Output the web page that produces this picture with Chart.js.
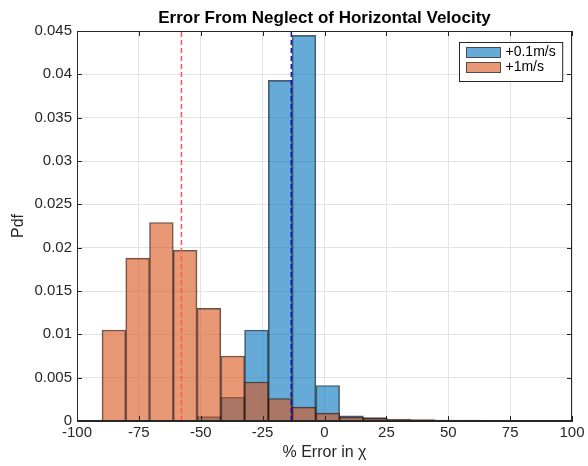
<!DOCTYPE html>
<html>
<head>
<meta charset="utf-8">
<script src="https://cdn.jsdelivr.net/npm/chart.js@4"></script>
<style>
  body { margin: 0; background: #fff; }
</style>
</head>
<body>
<canvas id="grafico" width="588" height="466"></canvas>
<script>
// centros de los bins (% error en chi)
const centrosBin = [-85.1, -75.5, -65.9, -56.3, -46.7, -37.1, -27.5, -17.9, -8.3,
                    1.3, 10.9, 20.5, 30.1, 39.7, 49.3, 58.9, 68.5, 78.1];
// pdf para +0.1m/s
const pdfLento = [null, null, null, null, 0.0005, 0.00274, 0.0105, 0.0393, 0.0445,
                  0.0041, 0.0006, 0.0004, 0.0001, null, null, null, null, null];
// pdf para +1m/s
const pdfRapido = [0.0105, 0.0188, 0.0229, 0.0197, 0.013, 0.0075, 0.0045, 0.0026, 0.0016,
                   0.0009, 0.00045, 0.0003, 0.00022, 0.00015, 0.0001, 0.0001, 0.00008, 0.00005];
const etiquetas = ['+0.1m/s', '+1m/s'];
// medias (lineas discontinuas)
const mediaLento = -13.4;
const mediaRapido = -57.8;
const limitesX = [-100, 100];
const limitesY = [0, 0.045];

const fuente = "'Liberation Sans', Arial, Helvetica, sans-serif";
const colorAzul = 'rgba(0, 114, 189, 0.6)';
const colorNaranja = 'rgba(217, 83, 25, 0.6)';
const colorBorde = 'rgba(20, 20, 20, 0.7)';

function puntos(valores) {
    return centrosBin.map((c, i) => ({ x: c, y: valores[i] }));
}

function lineaVertical(x) {
    return [{ x: x, y: limitesY[0] }, { x: x, y: limitesY[1] }];
}

// caja de ejes con marcas hacia adentro, estilo matlab
const marcoEjes = {
    id: 'marcoEjes',
    afterDatasetsDraw(chart) {
        const { ctx, chartArea: a, scales: { x, y } } = chart;
        ctx.save();
        ctx.strokeStyle = '#262626';
        ctx.lineWidth = 1;
        ctx.beginPath();
        x.ticks.forEach(t => {
            const px = Math.round(x.getPixelForValue(t.value)) + 0.5;
            ctx.moveTo(px, a.bottom); ctx.lineTo(px, a.bottom - 5);
            ctx.moveTo(px, a.top); ctx.lineTo(px, a.top + 5);
        });
        y.ticks.forEach(t => {
            const py = Math.round(y.getPixelForValue(t.value)) + 0.5;
            ctx.moveTo(a.left, py); ctx.lineTo(a.left + 5, py);
            ctx.moveTo(a.right, py); ctx.lineTo(a.right - 5, py);
        });
        ctx.stroke();
        ctx.strokeRect(Math.round(a.left) + 0.5, Math.round(a.top) + 0.5,
                       Math.round(a.width) - 1, Math.round(a.height) - 1);
        ctx.restore();
    }
};

// leyenda dentro del area, arriba a la derecha
const leyendaCaja = {
    id: 'leyendaCaja',
    afterDraw(chart) {
        const { ctx, chartArea: a } = chart;
        const barras = chart.data.datasets.filter(d => d.type !== 'line');
        ctx.save();
        ctx.font = '14px ' + fuente;
        const anchoTexto = Math.max(...barras.map(d => ctx.measureText(d.label).width));
        const ancho = 7 + 34 + 5 + anchoTexto + 7;
        const alto = 39;
        const x0 = Math.round(a.right - 10 - ancho) + 0.5;
        const y0 = Math.round(a.top + 11) + 0.5;
        ctx.fillStyle = '#fff';
        ctx.fillRect(x0, y0, ancho, alto);
        ctx.strokeStyle = '#262626';
        ctx.lineWidth = 1;
        ctx.strokeRect(x0, y0, ancho, alto);
        barras.forEach((d, i) => {
            const yc = y0 + 10 + i * 15;
            ctx.fillStyle = d.backgroundColor;
            ctx.fillRect(x0 + 7, yc - 5, 34, 10);
            ctx.strokeStyle = colorBorde;
            ctx.strokeRect(x0 + 7, yc - 5, 34, 10);
            ctx.fillStyle = '#000';
            ctx.textBaseline = 'middle';
            ctx.fillText(d.label, x0 + 46, yc);
        });
        ctx.restore();
    }
};

const ctx = document.getElementById('grafico').getContext('2d');
new Chart(ctx, {
    type: 'bar',
    data: {
        datasets: [
            {
                type: 'line',
                data: lineaVertical(mediaRapido),
                borderColor: '#ff5a5a',
                borderWidth: 1.6,
                borderDash: [5, 3],
                pointRadius: 0,
                order: 0
            },
            {
                type: 'line',
                data: lineaVertical(mediaLento),
                borderColor: '#1010c8',
                borderWidth: 1.5,
                borderDash: [5, 3],
                pointRadius: 0,
                order: 0
            },
            {
                label: etiquetas[0],
                data: puntos(pdfLento),
                backgroundColor: colorAzul,
                borderColor: colorBorde,
                borderWidth: 1,
                grouped: false,
                barPercentage: 1,
                categoryPercentage: 1,
                order: 2
            },
            {
                label: etiquetas[1],
                data: puntos(pdfRapido),
                backgroundColor: colorNaranja,
                borderColor: colorBorde,
                borderWidth: 1,
                grouped: false,
                barPercentage: 1,
                categoryPercentage: 1,
                order: 1
            }
        ]
    },
    options: {
        responsive: false,
        animation: false,
        devicePixelRatio: 1,
        layout: { padding: { left: 0, right: 16, top: 0, bottom: 0 } },
        plugins: {
            legend: { display: false },
            tooltip: { enabled: false },
            title: {
                display: true,
                fullSize: false,
                text: 'Error From Neglect of Horizontal Velocity',
                color: '#000',
                font: { family: fuente, size: 17, weight: 'bold' },
                padding: { top: 8, bottom: 2.6 }
            }
        },
        scales: {
            x: {
                type: 'linear',
                min: limitesX[0],
                max: limitesX[1],
                offset: false,
                grid: { color: '#e3e3e3', drawTicks: false, offset: false },
                border: { color: '#262626' },
                ticks: {
                    stepSize: 25,
                    color: '#262626',
                    padding: 3,
                    maxRotation: 0,
                    font: { family: fuente, size: 15 }
                },
                title: {
                    display: true,
                    text: '% Error in χ',
                    color: '#262626',
                    font: { family: fuente, size: 16 },
                    padding: { top: 0, bottom: 4 }
                },
                afterFit(escala) { escala.height = 45; }
            },
            y: {
                min: limitesY[0],
                max: limitesY[1],
                grid: { color: '#e3e3e3', drawTicks: false },
                border: { color: '#262626' },
                ticks: {
                    stepSize: 0.005,
                    color: '#262626',
                    padding: 5,
                    font: { family: fuente, size: 15 },
                    callback: v => String(+v.toFixed(3))
                },
                title: {
                    display: true,
                    text: 'Pdf',
                    color: '#262626',
                    font: { family: fuente, size: 16 },
                    padding: { top: 9, bottom: 0 }
                },
                afterFit(escala) { escala.width = 77; }
            }
        }
    },
    plugins: [marcoEjes, leyendaCaja]
});
</script>
</body>
</html>
